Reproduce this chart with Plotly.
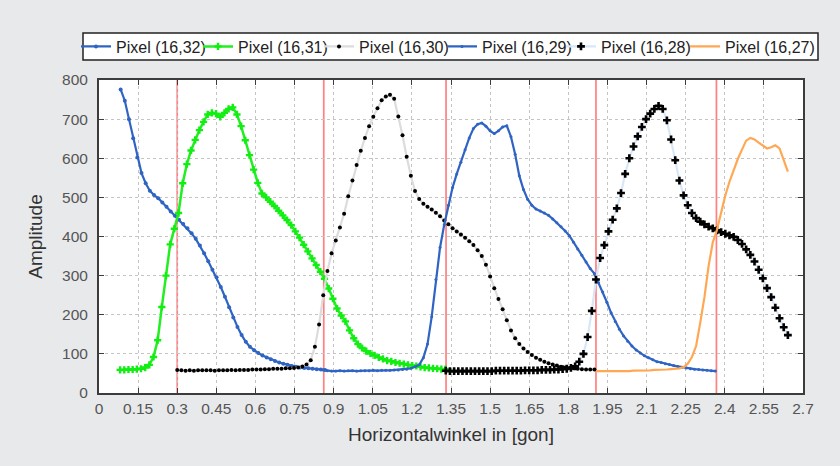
import plotly.graph_objects as go

# ---------------- data ----------------
STEP = 0.016  # sample spacing in gon

px32_start = 0.083
px32 = [776, 747, 700, 651, 602, 562, 536, 517, 506, 498, 487, 476, 464, 453, 443,
        432, 421, 408, 394, 377, 357, 337, 315, 296, 271, 246, 219, 193, 169, 148,
        131, 118, 109, 102, 96, 91, 86, 82, 78, 75, 72, 69, 67, 65, 64, 63, 62, 61, 60, 59]

px31_start = 0.081
px31 = [59, 59, 60, 60, 61, 62, 65, 72, 92, 135, 220, 300, 380, 420, 460, 536, 585, 620,
        647, 672, 693, 712, 716, 714, 706, 716, 726, 730, 712, 682, 646, 608, 571, 537,
        510, 500, 489, 478, 466, 454, 442, 429, 413, 397, 379, 362, 344, 327, 310, 292,
        267, 241, 216, 198, 183, 160, 140, 125, 115, 107, 101, 96, 91, 87, 83, 81, 78,
        76, 74, 72, 70, 69, 67, 65, 64, 63, 62, 61, 61]

px30_start = 0.300
px30 = [59, 58, 57, 58, 57, 58, 58, 58, 58, 57, 58, 58, 58, 59, 58, 59, 59, 59, 60, 60,
        60, 61, 61, 62, 62, 62, 63, 63, 64, 65, 68, 73, 84, 118, 175, 250, 312, 357, 390,
        423, 458, 503, 543, 583, 619, 652, 682, 706, 728, 748, 758, 762, 752, 707, 659,
        604, 555, 516, 496, 484, 476, 469, 461, 452, 441, 431, 421, 413, 405, 397, 388,
        378, 365, 350, 328, 298, 268, 240, 214, 186, 160, 140, 125, 114, 105, 97, 90, 85,
        80, 76, 73, 70, 67, 65, 64, 63, 62, 61, 60, 60, 60]

px29_start = 0.860
px29 = [59, 57, 56, 56, 57, 56, 57, 57, 56, 57, 57, 57, 58, 57, 58, 58, 58, 59, 59, 60,
        61, 63, 67, 72, 90, 125, 195, 290, 372, 430, 480, 525, 560, 590, 622, 652, 676,
        687, 690, 682, 670, 663, 670, 680, 683, 655, 610, 555, 520, 495, 480, 470, 465,
        460, 454, 445, 435, 425, 414, 402, 385, 368, 352, 335, 318, 305, 282, 258, 232,
        205, 183, 163, 146, 132, 120, 110, 102, 95, 90, 85, 80, 78, 75, 73, 70, 68, 66,
        64, 62, 61, 60, 59, 58, 57, 56]

px28_start = 1.330
px28 = [57, 56, 56, 56, 56, 56, 56, 56, 56, 56, 56, 56, 57, 57, 57, 57, 57, 57, 57, 58,
        58, 58, 58, 59, 59, 59, 60, 60, 61, 62, 64, 68, 80, 100, 143, 210, 290, 345, 378,
        413, 443, 472, 511, 560, 600, 630, 656, 680, 700, 714, 726, 734, 726, 697, 648,
        595, 543, 505, 480, 460, 447, 438, 431, 425, 421, 416, 411, 407, 403, 399, 391,
        381, 367, 353, 336, 315, 293, 268, 245, 218, 191, 168, 148]

px27_start = 1.906
px27 = [56, 56, 55, 55, 56, 56, 56, 56, 56, 57, 57, 57, 58, 58, 59, 59, 60, 60, 61, 62,
        63, 66, 75, 92, 120, 180, 245, 325, 385, 417, 460, 505, 540, 572, 598, 622, 645,
        652, 648, 640, 632, 625, 628, 633, 625, 598, 566]

series_names = ["Pixel (16,32)", "Pixel (16,31)", "Pixel (16,30)",
                "Pixel (16,29)", "Pixel (16,28)", "Pixel (16,27)"]

red_lines = [0.3, 0.862, 1.331, 1.906, 2.368]

x_tick_vals = [0, 0.15, 0.3, 0.45, 0.6, 0.75, 0.9, 1.05, 1.2, 1.35, 1.5, 1.65, 1.8,
               1.95, 2.1, 2.25, 2.4, 2.55, 2.7]
x_tick_text = ["0", "0.15", "0.3", "0.45", "0.6", "0.75", "0.9", "1.05", "1.2", "1.35",
               "1.5", "1.65", "1.8", "1.95", "2.1", "2.25", "2.4", "2.55", "2.7"]
y_tick_vals = [0, 100, 200, 300, 400, 500, 600, 700, 800]

# ---------------- layout constants ----------------
FONT = "Liberation Sans, Arial, sans-serif"
BLUE = "#2f64c4"
W, H = 840, 466
ML, MR, MT, MB = 99, 37, 80, 73
PW, PH = W - ML - MR, H - MT - MB

def px_to_paper_x(px):
    return (px - ML) / PW

def px_to_paper_y(py):
    return (H - MB - py) / PH

# legend entry text start positions (pixels) and legend box
LEGEND_TEXT_X = [116, 238, 359, 482, 601, 725]
LEGEND_BOX = (83, 33, 818, 60)
LEGEND_MID_Y = 46.5

fig = go.Figure()

styles = [
    dict(mode="lines+markers", line=dict(color=BLUE, width=2.2),
         marker=dict(color=BLUE, size=4, symbol="circle")),
    dict(mode="lines+markers", line=dict(color="#22ee22", width=2.5),
         marker=dict(color="#11ee11", size=6, symbol="cross")),
    dict(mode="lines+markers", line=dict(color="#dcdcdc", width=2.2),
         marker=dict(color="#000000", size=4, symbol="circle")),
    dict(mode="lines+markers", line=dict(color=BLUE, width=2.2),
         marker=dict(color=BLUE, size=3, symbol="circle")),
    dict(mode="lines+markers", line=dict(color="#d8e7f8", width=2.2),
         marker=dict(color="#000000", size=6.5, symbol="cross")),
    dict(mode="lines", line=dict(color="#ffa854", width=2.2)),
]
series = [(px32_start, px32), (px31_start, px31), (px30_start, px30),
          (px29_start, px29), (px28_start, px28), (px27_start, px27)]

legend_ids = ["legend", "legend2", "legend3", "legend4", "legend5", "legend6"]

for (x0, vals), name, st, lid in zip(series, series_names, styles, legend_ids):
    fig.add_trace(go.Scatter(y=vals, x0=x0, dx=STEP, name=name, legend=lid, **st))

for xv in red_lines:
    fig.add_shape(type="line", xref="x", yref="paper", x0=xv, x1=xv, y0=0, y1=1,
                  line=dict(color="#ff8080", width=1.7), layer="below")

# legend frame
fig.add_shape(type="rect", xref="paper", yref="paper",
              x0=px_to_paper_x(LEGEND_BOX[0]), x1=px_to_paper_x(LEGEND_BOX[2]),
              y0=px_to_paper_y(LEGEND_BOX[3]), y1=px_to_paper_y(LEGEND_BOX[1]),
              line=dict(color="#222222", width=1.5), fillcolor="#ffffff", layer="above")

axis_common = dict(
    showline=True, linecolor="#3c3c3c", linewidth=2, mirror="ticks",
    ticks="inside", ticklen=5, tickcolor="#3c3c3c", tickwidth=1,
    showgrid=True, gridcolor="#c4c4c4", griddash="dot", gridwidth=1,
    zeroline=False, tickfont=dict(family=FONT, size=15.5, color="#555555"),
)

fig.update_xaxes(
    range=[0, 2.7], tickmode="array", tickvals=x_tick_vals, ticktext=x_tick_text,
    title=dict(text="Horizontalwinkel in [gon]", font=dict(family=FONT, size=19, color="#333333"),
               standoff=12),
    ticklabelstandoff=0, automargin=False, **axis_common)

fig.update_yaxes(
    range=[0, 800], tickmode="array", tickvals=y_tick_vals,
    title=dict(text="Amplitude", font=dict(family=FONT, size=19, color="#333333"),
               standoff=14),
    ticklabelstandoff=6, automargin=False, **axis_common)

legend_layout = {}
for lid, tx in zip(legend_ids, LEGEND_TEXT_X):
    legend_layout[lid] = dict(
        orientation="h", x=px_to_paper_x(tx - 40), xanchor="left",
        y=px_to_paper_y(LEGEND_MID_Y), yanchor="middle",
        bgcolor="rgba(0,0,0,0)", borderwidth=0, itemwidth=30,
        font=dict(family=FONT, size=16, color="#222222"))

fig.update_layout(
    width=W, height=H,
    margin=dict(l=ML, r=MR, t=MT, b=MB),
    paper_bgcolor="#e8e9eb", plot_bgcolor="#ffffff",
    font=dict(family=FONT, color="#222222"),
    showlegend=True,
    **legend_layout,
)

fig.write_html("out.html", config={"displayModeBar": False},
               post_script="document.body.style.margin='0';")
